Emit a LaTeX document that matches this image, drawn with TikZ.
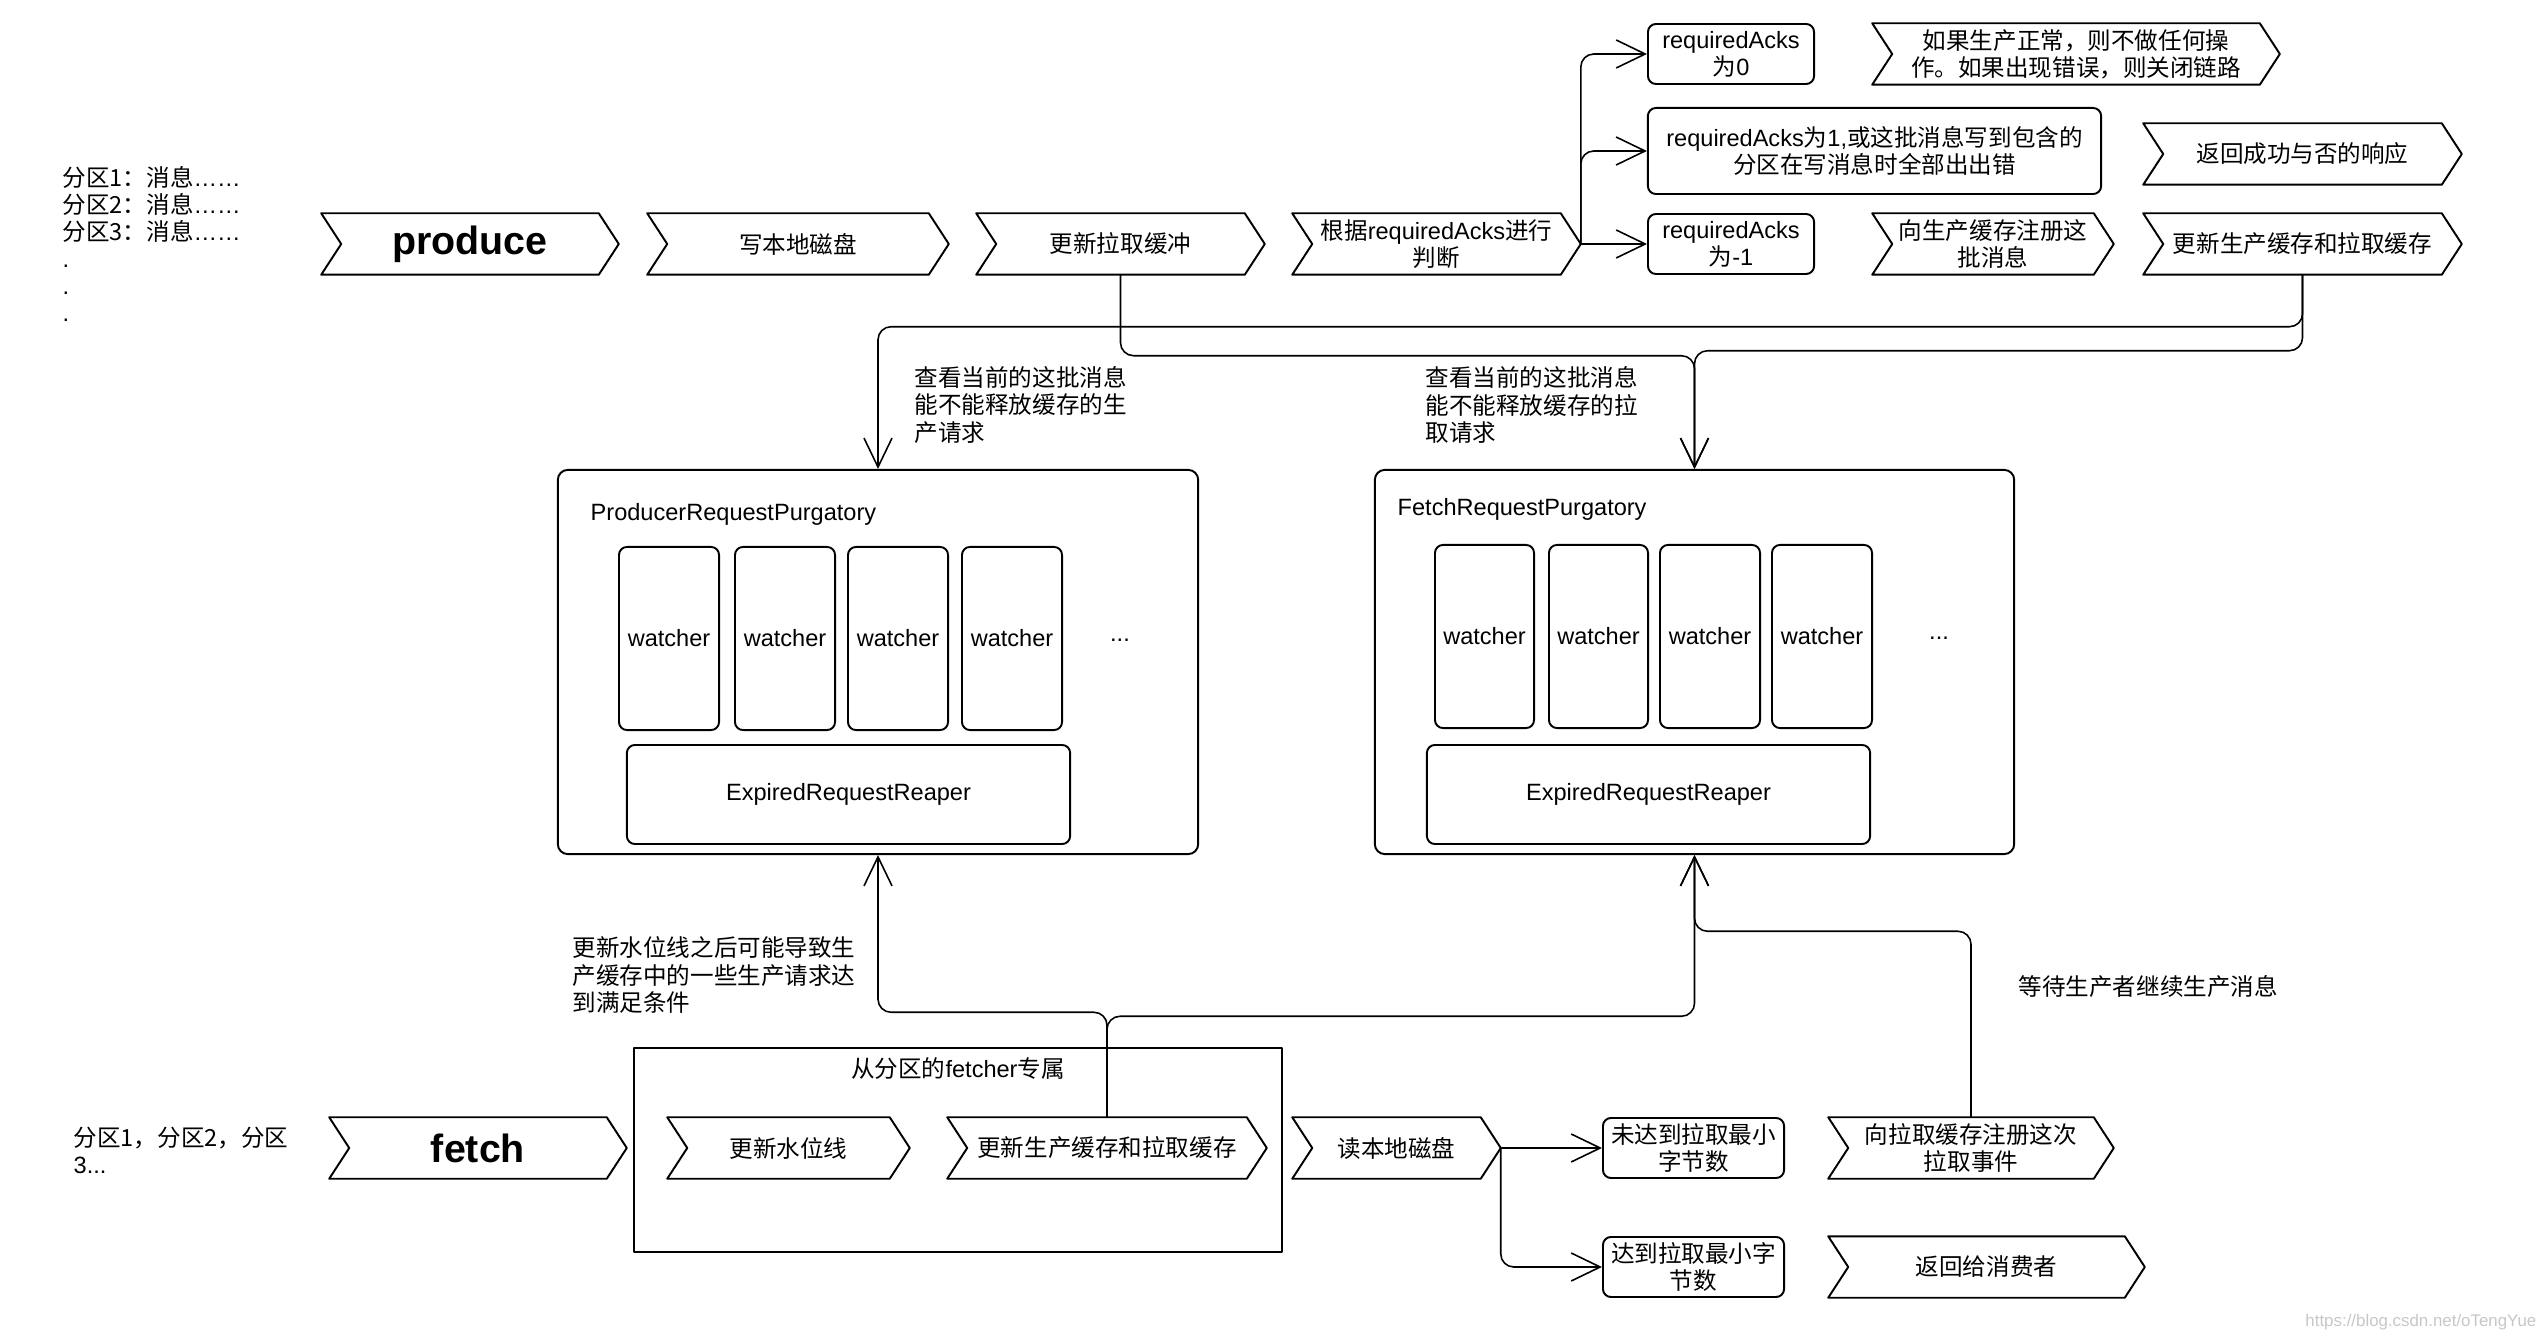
\documentclass[tikz,border=0pt]{standalone}
\usepackage{fontspec}
\setmainfont{Liberation Sans}
\newfontfamily\zhf{Noto Sans CJK SC}
\usetikzlibrary{arrows.meta,calc}
\newcommand\zh[1]{{\zhf #1}}
\newcommand\chevdraw[1]{\draw[shp] (#1.north west) -- ([xshift=-2mm]#1.north east) -- (#1.east) -- ([xshift=-2mm]#1.south east) -- (#1.south west) -- ([xshift=2mm]#1.west) -- cycle;}
\tikzset{
  shp/.style={line width=0.55pt, line join=round},
  chev/.style={inner sep=0pt, minimum height=0.6cm, align=center},
  rbox/.style={draw, line width=0.55pt, rounded corners=0.8mm, inner sep=0pt, align=center},
  pbox/.style={draw, line width=0.55pt, rounded corners=1mm, inner sep=0pt},
  conn/.style={line width=0.45pt, rounded corners=1.3mm},
  arr/.style={conn, -{Straight Barb[length=2.9mm,width=2.8mm]}},
  lbl/.style={inner sep=0pt, align=left, anchor=west},
  bigt/.style={font=\fontsize{11.2}{13}\selectfont\bfseries}
}
\begin{document}
\begin{tikzpicture}[x=0.01cm, y=-0.01cm, font=\fontsize{6.7}{7.7}\selectfont]
\useasboundingbox (0,0) rectangle (2548,1340);

% ---------- top row ----------
\node[lbl] (parts) at (62,244) {\zh{分区1：消息}……\\\zh{分区2：消息}……\\\zh{分区3：消息}……\\.\\.\\.};

\node[chev, minimum width=2.96cm, bigt] (produce) at (470,244) {produce};
\chevdraw{produce}
\node[chev, minimum width=3.00cm] (disk) at (798,244) {\zh{写本地磁盘}};
\chevdraw{disk}
\node[chev, minimum width=2.87cm] (upd0) at (1120.5,244) {\zh{更新拉取缓冲}};
\chevdraw{upd0}
\node[chev, minimum width=2.87cm] (judge) at (1436.5,244) {\zh{根据}requiredAcks\zh{进行}\\\zh{判断}};
\chevdraw{judge}

\node[rbox, minimum width=1.66cm, minimum height=0.6cm] (ack0) at (1731,54) {requiredAcks\\\zh{为}0};
\node[rbox, minimum width=4.53cm, minimum height=0.86cm] (ack1) at (1874.5,151) {requiredAcks\zh{为}1,\zh{或这批消息写到包含的}\\\zh{分区在写消息时全部出出错}};
\node[rbox, minimum width=1.66cm, minimum height=0.6cm] (ackm) at (1731,244) {requiredAcks\\\zh{为}-1};

\node[chev, minimum width=4.06cm] (ok) at (2076,54) {\zh{如果生产正常，则不做任何操}\\\zh{作。如果出现错误，则关闭链路}};
\chevdraw{ok}
\node[chev, minimum width=3.17cm] (resp) at (2302.5,154) {\zh{返回成功与否的响应}};
\chevdraw{resp}
\node[chev, minimum width=2.40cm] (regp) at (1993,244) {\zh{向生产缓存注册这}\\\zh{批消息}};
\chevdraw{regp}
\node[chev, minimum width=3.17cm] (upd1) at (2302.5,244) {\zh{更新生产缓存和拉取缓存}};
\chevdraw{upd1}

\draw[arr] (judge.east) -- (ackm.west);
\draw[arr] (judge.east) |- (ack1.west);
\draw[arr] (judge.east) |- (ack0.west);

% ---------- purgatories ----------
\node[pbox, minimum width=6.40cm, minimum height=3.84cm] (prodP) at (878,662) {};
\node[anchor=west, inner sep=0pt] (prodT) at (590,514) {ProducerRequestPurgatory};
\node[rbox, minimum width=1.0cm, minimum height=1.83cm] (pw1) at (669,638.5) {watcher};
\node[rbox, minimum width=1.0cm, minimum height=1.83cm] (pw2) at (785,638.5) {watcher};
\node[rbox, minimum width=1.0cm, minimum height=1.83cm] (pw3) at (898,638.5) {watcher};
\node[rbox, minimum width=1.0cm, minimum height=1.83cm] (pw4) at (1012,638.5) {watcher};
\node[inner sep=0pt] (pdots) at (1120,640) {...};
\node[rbox, minimum width=4.43cm, minimum height=0.99cm] (pexp) at (848.5,794.5) {ExpiredRequestReaper};

\node[pbox, minimum width=6.39cm, minimum height=3.84cm] (fetchP) at (1694.5,662) {};
\node[anchor=west, inner sep=0pt] (fetchT) at (1397,509) {FetchRequestPurgatory};
\node[rbox, minimum width=0.99cm, minimum height=1.83cm] (fw1) at (1484.5,636.5) {watcher};
\node[rbox, minimum width=0.99cm, minimum height=1.83cm] (fw2) at (1598.5,636.5) {watcher};
\node[rbox, minimum width=1.0cm, minimum height=1.83cm] (fw3) at (1710,636.5) {watcher};
\node[rbox, minimum width=1.0cm, minimum height=1.83cm] (fw4) at (1822,636.5) {watcher};
\node[inner sep=0pt] (fdots) at (1939,638) {...};
\node[rbox, minimum width=4.43cm, minimum height=0.99cm] (fexp) at (1648.5,794.5) {ExpiredRequestReaper};

\node[lbl] (l1) at (914,405) {\zh{查看当前的这批消息}\\\zh{能不能释放缓存的生}\\\zh{产请求}};
\node[lbl] (l2) at (1425,405) {\zh{查看当前的这批消息}\\\zh{能不能释放缓存的拉}\\\zh{取请求}};

\draw[arr] (upd1.south) -- ++(0,52) -| (prodP.north);
\draw[arr] (upd1.south) -- ++(0,76) -| (fetchP.north);
\draw[arr] (upd0.south) -- ++(0,81) -| (fetchP.north);

% ---------- bottom row ----------
\node[lbl] (parts2) at (73,1150) {\zh{分区1，分区2，分区}\\3...};
\node[chev, minimum width=2.96cm, bigt] (fetch) at (478,1148) {fetch};
\chevdraw{fetch}
\node[draw, shp, inner sep=0pt, minimum width=6.48cm, minimum height=2.04cm] (fbox) at (958,1150) {};
\node[inner sep=0pt] (fboxT) at (958,1069) {\zh{从分区的}fetcher\zh{专属}};
\node[chev, minimum width=2.41cm] (hw) at (788.5,1148) {\zh{更新水位线}};
\chevdraw{hw}
\node[chev, minimum width=3.18cm] (upd2) at (1107,1148) {\zh{更新生产缓存和拉取缓存}};
\chevdraw{upd2}
\node[chev, minimum width=2.07cm] (rd) at (1396.5,1148) {\zh{读本地磁盘}};
\chevdraw{rd}
\node[rbox, minimum width=1.81cm, minimum height=0.6cm] (nr) at (1693.5,1148) {\zh{未达到拉取最小}\\\zh{字节数}};
\node[rbox, minimum width=1.81cm, minimum height=0.6cm] (re) at (1693.5,1267) {\zh{达到拉取最小字}\\\zh{节数}};
\node[chev, minimum width=2.84cm] (regf) at (1971,1148) {\zh{向拉取缓存注册这次}\\\zh{拉取事件}};
\chevdraw{regf}
\node[chev, minimum width=3.15cm] (back) at (1986.5,1267) {\zh{返回给消费者}};
\chevdraw{back}

\draw[arr] (rd.east) -- (nr.west);
\draw[arr] (rd.east) |- (re.west);
\draw[arr] (upd2.north) -- ++(0,-105) -| (prodP.south);
\draw[arr] (upd2.north) -- ++(0,-101) -| (fetchP.south);
\draw[arr] (regf.north) -- ++(0,-186) -| (fetchP.south);

\node[lbl] (l3) at (572,975) {\zh{更新水位线之后可能导致生}\\\zh{产缓存中的一些生产请求达}\\\zh{到满足条件}};
\node[lbl] (l4) at (2018,987) {\zh{等待生产者继续生产消息}};

\node[anchor=east, inner sep=0pt, text=black!22, font=\fontsize{4.8}{5.5}\selectfont] (wm) at (2537,1322) {https://blog.csdn.net/oTengYue};
\end{tikzpicture}
\end{document}
